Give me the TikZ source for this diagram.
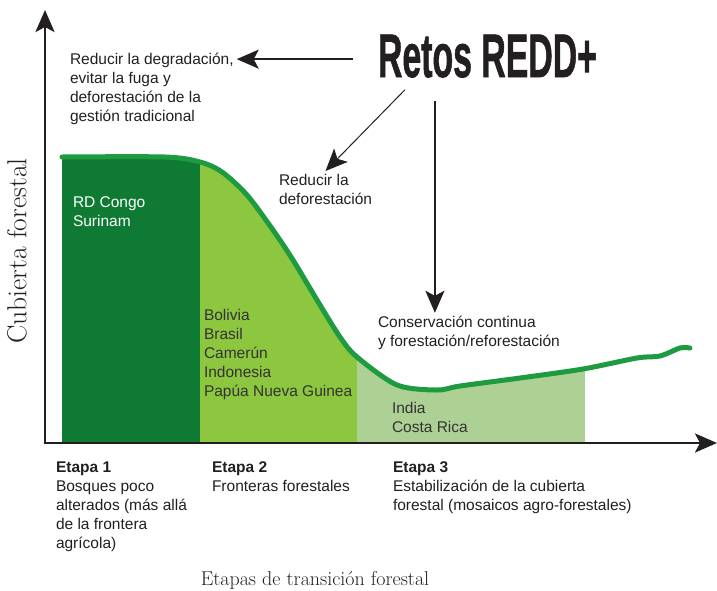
\documentclass[tikz,border=0pt]{standalone}
\usepackage{fontspec}
\newfontfamily\arialfont{Liberation Sans}
\newfontfamily\titlefont[FakeBold=1.3]{Liberation Sans Bold}
\usetikzlibrary{arrows.meta,positioning,calc}
\definecolor{etapaone}{HTML}{0E7A33}
\definecolor{etapatwo}{HTML}{8DC63F}
\definecolor{etapathree}{HTML}{ADD095}
\definecolor{curvegreen}{HTML}{1E9B40}
\definecolor{inkgray}{HTML}{231F20}

\begin{document}
\begin{tikzpicture}[x=1pt, y=-1pt,
  note/.style={anchor=base west, align=left, inner sep=0pt, outer sep=3pt, text=inkgray, font=\arialfont\fontsize{15.5}{18.8}\selectfont},
  country/.style={note, text=black!80},
  axis/.style={-{Stealth[length=22pt, width=19pt, inset=5pt]}, line width=2.8pt, draw=inkgray},
  arr/.style={-{Stealth[length=22pt, width=19pt, inset=5pt]}, line width=2pt, draw=inkgray},
  thinarr/.style={arr, line width=1pt},
  axislabel/.style={font=\fontsize{20}{24}\selectfont, text=inkgray, inner sep=0pt}
]
\useasboundingbox (0,0) rectangle (717,590);

% stages under the curve (anchor of a multi-line note = its last line)
\begin{scope}
  \clip (62,443) -- plot[smooth, tension=0.5] coordinates {(62,157) (165,157) (200,162) (222,172) (247,195) (273,230) (293,260) (317,300) (340,337) (357,357) (397,385) (437,390) (460,386) (520,378) (583,369) (637,358) (660,356) (680,348) (690,348)} -- (690,443) -- cycle;
  \fill[etapaone] (62,0) rectangle (200,443);
  \fill[etapatwo] (200,0) rectangle (357,443);
  \fill[etapathree] (357,0) rectangle (585,443);
\end{scope}
\draw[curvegreen, line width=5pt, line cap=round] plot[smooth, tension=0.5] coordinates {(62,157) (165,157) (200,162) (222,172) (247,195) (273,230) (293,260) (317,300) (340,337) (357,357) (397,385) (437,390) (460,386) (520,378) (583,369) (637,358) (660,356) (680,348) (690,348)};

% axes
\coordinate (origin) at (45,443);
\coordinate (ytip) at (45,10);
\coordinate (xtip) at (717,443);
\draw[axis] ([yshift=-1.4pt]origin) -- (ytip);
\draw[axis] ([xshift=-1.4pt]origin) -- (xtip);

\node[font=\titlefont\fontsize{61.5}{62}\selectfont, xscale=0.55, inner sep=0pt, anchor=base, text=inkgray] (retos) at (487.5,77) {Retos REDD+};

\node[note] (degrad) at (67,121) {Reducir la degradación,\\evitar la fuga y\\deforestación de la\\gestión tradicional};
\node[note] (defor) at (276,204) {Reducir la\\deforestación};
\node[note] (conserv) at (375,346) {Conservación continua\\y forestación/reforestación};

\node[country, text=white] (congo) at (70,226) {RD Congo\\Surinam};
\node[country] (bolivia) at (201,396) {Bolivia\\Brasil\\Camerún\\Indonesia\\Papúa Nueva Guinea};
\node[country] (india) at (389,432) {India\\Costa Rica};

\node[note] (etapa1) at (53,548) {\textbf{Etapa 1}\\Bosques poco\\alterados (más allá\\de la frontera\\agrícola)};
\node[note] (etapa2) at (209,491) {\textbf{Etapa 2}\\Fronteras forestales};
\node[note] (etapa3) at (390,510) {\textbf{Etapa 3}\\Estabilización de la cubierta\\forestal (mosaicos agro-forestales)};

\node[axislabel, anchor=base] (xlabel) at (315,585) {Etapas de transición forestal};
\node[axislabel, font=\fontsize{27.5}{32}\selectfont, rotate=90] (ylabel) at (17,251) {Cubierta forestal};

\coordinate (hstart) at ($(retos.west)+(-25,3)$);
\coordinate (dstart) at ($(retos.south west)+(27,12)$);
\coordinate (vstart) at ($(retos.south west)+(57,23)$);
\draw[arr] (hstart) -- (degrad.north east |- hstart);
\draw[thinarr] (dstart) -- (defor.north);
\draw[arr] (vstart) -- (conserv.north -| vstart);
\end{tikzpicture}
\end{document}
